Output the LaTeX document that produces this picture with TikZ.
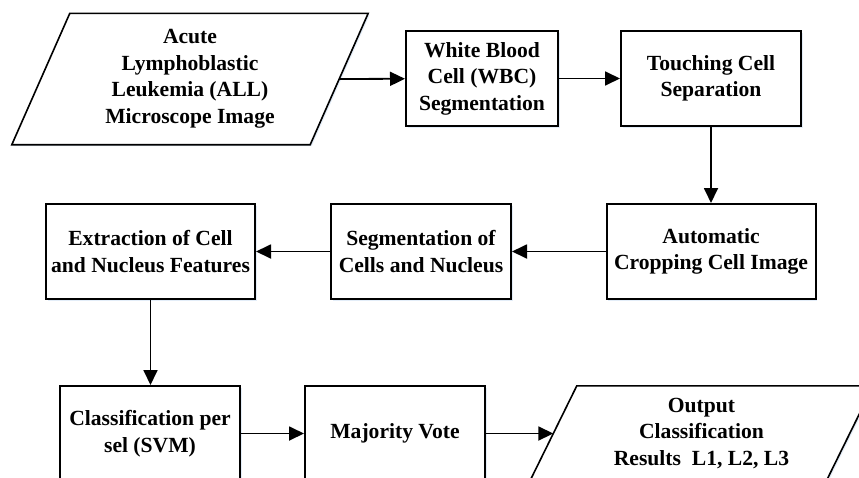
\documentclass[tikz,border=0pt]{standalone}
\usepackage{fontspec}
\setmainfont{Liberation Serif}
\usetikzlibrary{arrows.meta,shadows}
\definecolor{allglow}{HTML}{DCE8F6}

\begin{document}
\begin{tikzpicture}[x=1pt, y=-1pt,
  every node/.style={font=\bfseries\fontsize{21.6}{26.5}\selectfont, align=center, inner sep=2pt},
  proc/.style={draw=black, line width=2pt, fill=white, minimum height=95pt,
    drop shadow={shadow xshift=1.5pt, shadow yshift=-1.5pt, fill=allglow, opacity=0.8}},
  io/.style={draw=black, line width=1.6pt, fill=white, line join=miter,
    drop shadow={shadow xshift=1.5pt, shadow yshift=-1.5pt, fill=allglow, opacity=0.8}},
  flow/.style={draw=black, line width=1.8pt, -{Triangle[length=15pt, width=14pt]}}]
\path[use as bounding box, clip] (0,0) rectangle (859,477);
% first row
\node[minimum width=356pt, minimum height=131pt] (input) at (190,79) {};
\draw[io] (input.south west) -- ([xshift=-58pt]input.south east) -- (input.north east)
  -- ([xshift=58pt]input.north west) -- cycle;
\node at (input) {Acute\\Lymphoblastic\\Leukemia (ALL)\\Microscope Image};
\node[proc, minimum width=152pt] (wbc) at (482,78.5) {White Blood\\Cell (WBC)\\Segmentation};
\node[proc, minimum width=180pt] (touch) at (711,78.5) {Touching Cell\\Separation};
% second row
\node[proc, minimum width=209pt] (crop) at (711,251.5) {Automatic\\Cropping Cell Image};
\node[proc, minimum width=180pt] (segcn) at (421,251.5) {Segmentation of\\Cells and Nucleus};
\node[proc, minimum width=209pt] (feat) at (150.5,251.5) {Extraction of Cell\\and Nucleus Features};
% third row
\node[proc, minimum width=180pt] (svm) at (150,433.5) {Classification per\\sel (SVM)};
\node[proc, minimum width=180pt] (vote) at (395,433.5) {Majority Vote};
\node[minimum width=343pt, minimum height=95pt] (result) at (701.5,433.5) {};
\draw[io] (result.south west) -- ([xshift=-47pt]result.south east) -- (result.north east)
  -- ([xshift=47pt]result.north west) -- cycle;
\node at (result) {Output\\Classification\\Results\ \ L1, L2, L3};
% connectors
\draw[flow] ([xshift=-29pt]input.east) -- (wbc);
\draw[flow] (wbc) -- (touch);
\draw[flow] (touch) -- (crop);
\draw[flow] (crop) -- (segcn);
\draw[flow] (segcn) -- (feat);
\draw[flow] (feat.south) -- (feat.south |- svm.north);
\draw[flow] (svm) -- (vote);
\draw[flow] (vote) -- ([xshift=23.5pt]result.west);
\end{tikzpicture}
\end{document}
